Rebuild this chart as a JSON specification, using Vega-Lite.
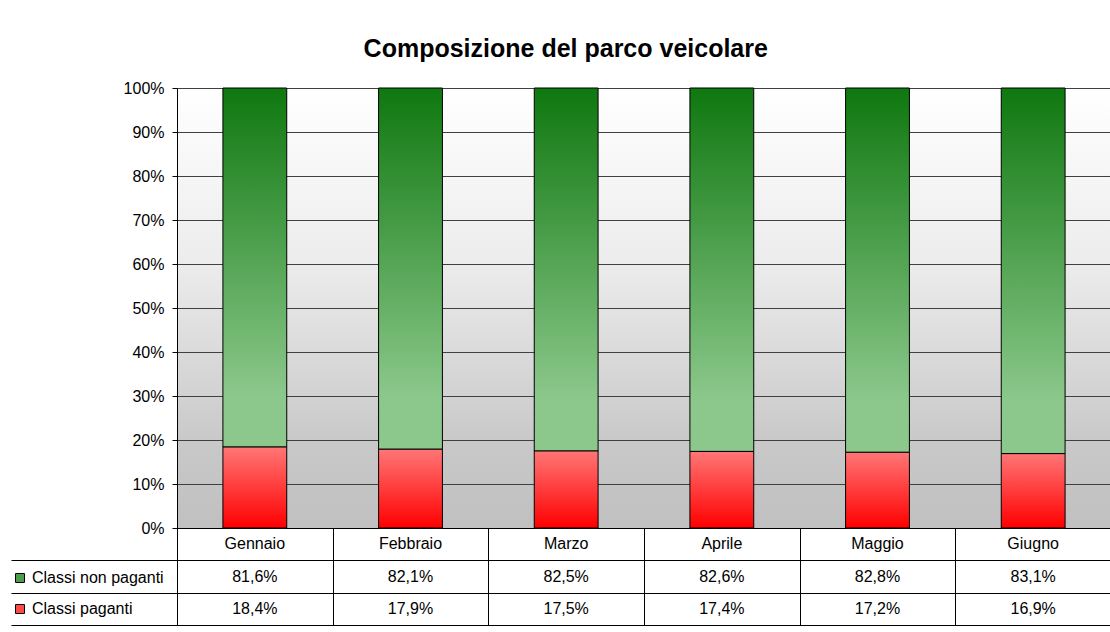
{
  "$schema": "https://vega.github.io/schema/vega-lite/v6.json",
  "padding": {"left": 10, "top": 37, "right": 0, "bottom": 0},
  "background": "white",
  "title": {"text": "Composizione del parco veicolare", "fontSize": 25, "font": "Liberation Sans", "fontWeight": "bold", "color": "black", "anchor": "middle", "frame": "bounds", "offset": 18, "dx": 5},
  "datasets": {
    "tab": [
      {"month": "Gennaio", "series": "Classi non paganti", "value": 0.816},
      {"month": "Gennaio", "series": "Classi paganti", "value": 0.184},
      {"month": "Febbraio", "series": "Classi non paganti", "value": 0.821},
      {"month": "Febbraio", "series": "Classi paganti", "value": 0.179},
      {"month": "Marzo", "series": "Classi non paganti", "value": 0.825},
      {"month": "Marzo", "series": "Classi paganti", "value": 0.175},
      {"month": "Aprile", "series": "Classi non paganti", "value": 0.826},
      {"month": "Aprile", "series": "Classi paganti", "value": 0.174},
      {"month": "Maggio", "series": "Classi non paganti", "value": 0.828},
      {"month": "Maggio", "series": "Classi paganti", "value": 0.172},
      {"month": "Giugno", "series": "Classi non paganti", "value": 0.831},
      {"month": "Giugno", "series": "Classi paganti", "value": 0.169}
    ]
  },
  "spacing": 0,
  "bounds": "flush",
  "resolve": {"scale": {"x": "independent", "y": "independent", "color": "independent"}, "legend": {"color": "independent"}},
  "vconcat": [
    {
      "width": 934,
      "height": 440,
      "data": {"name": "tab"},
      "view": {
        "stroke": null,
        "fill": {"gradient": "linear", "x1": 0, "y1": 0, "x2": 0, "y2": 1,
          "stops": [{"offset": 0, "color": "#ffffff"}, {"offset": 0.4, "color": "#ececec"}, {"offset": 0.8, "color": "#c9c9c9"}, {"offset": 1, "color": "#c0c0c0"}]}
      },
      "mark": {"type": "bar", "stroke": "black", "strokeWidth": 1},
      "encoding": {
        "x": {"field": "month", "type": "nominal", "sort": ["Gennaio", "Febbraio", "Marzo", "Aprile", "Maggio", "Giugno"],
          "scale": {"paddingInner": 0.59, "paddingOuter": 0.295}, "axis": null},
        "y": {"field": "value", "type": "quantitative", "stack": "zero",
          "scale": {"domain": [0, 1], "nice": false},
          "axis": {"title": null, "format": ".0%", "values": [0, 0.1, 0.2, 0.3, 0.4, 0.5, 0.6, 0.7, 0.8, 0.9, 1],
            "grid": true, "gridColor": "#404040", "gridWidth": 1, "gridOpacity": 1,
            "domain": true, "domainColor": "black", "ticks": true, "tickColor": "black", "tickSize": 5,
            "labelFontSize": 16, "labelColor": "black", "labelFont": "Liberation Sans", "labelPadding": 8}},
        "order": {"field": "series", "sort": "descending"},
        "fill": {
          "condition": {"test": "datum.series === 'Classi paganti'",
            "value": {"gradient": "linear", "x1": 0, "y1": 0, "x2": 0, "y2": 1,
              "stops": [{"offset": 0, "color": "#ff7676"}, {"offset": 1, "color": "#ff0000"}]}},
          "value": {"gradient": "linear", "x1": 0, "y1": 0, "x2": 0, "y2": 1,
            "stops": [{"offset": 0, "color": "#0f780f"}, {"offset": 0.86, "color": "#8cc88c"}, {"offset": 1, "color": "#8cc88c"}]}
        }
      }
    },
    {
      "width": 934,
      "height": 97,
      "view": {"stroke": "black", "strokeWidth": 1, "fill": "white"},
      "resolve": {"scale": {"x": "shared", "y": "shared"}},
      "layer": [
        {
          "data": {"name": "tab"},
          "mark": {"type": "text", "fontSize": 16, "font": "Liberation Sans", "color": "black", "baseline": "middle"},
          "encoding": {
            "x": {"field": "month", "type": "nominal", "sort": ["Gennaio", "Febbraio", "Marzo", "Aprile", "Maggio", "Giugno"],
              "scale": {"domain": ["Gennaio", "Febbraio", "Marzo", "Aprile", "Maggio", "Giugno"], "paddingInner": 0, "paddingOuter": 0},
              "axis": {"title": null, "orient": "bottom", "labels": false, "ticks": false, "domain": false, "grid": true, "gridColor": "black", "gridOpacity": 1, "tickBand": "extent"}},
            "y": {"field": "series", "type": "nominal",
              "scale": {"domain": ["header", "Classi non paganti", "Classi paganti"], "paddingInner": 0, "paddingOuter": 0},
              "axis": {"title": null, "labels": false, "domain": false, "ticks": true, "tickSize": 166, "tickColor": "black", "tickWidth": 1,
                "grid": true, "gridColor": "black", "gridOpacity": 1, "tickOffset": 16.17}},
            "text": {"field": "value", "type": "quantitative", "format": ".1%"}
          }
        },
        {
          "data": {"name": "tab"},
          "transform": [{"filter": "datum.series === 'Classi paganti'"}],
          "mark": {"type": "text", "fontSize": 16, "font": "Liberation Sans", "color": "black", "baseline": "middle"},
          "encoding": {
            "x": {"field": "month", "type": "nominal", "sort": ["Gennaio", "Febbraio", "Marzo", "Aprile", "Maggio", "Giugno"]},
            "y": {"datum": "header", "type": "nominal"},
            "text": {"field": "month", "type": "nominal"}
          }
        },
        {
          "data": {"name": "tab"},
          "transform": [{"filter": "false"}],
          "mark": {"type": "square"},
          "encoding": {
            "color": {"field": "series", "type": "nominal",
              "scale": {"domain": ["Classi non paganti", "Classi paganti"], "range": ["#4c9c4c", "#ff4848"]},
              "legend": {"orient": "left", "title": " ", "titleFontSize": 16, "titlePadding": 26,
                "symbolType": "square", "symbolSize": 81, "symbolStrokeColor": "black", "symbolStrokeWidth": 1, "symbolOpacity": 1,
                "labelFontSize": 16, "labelColor": "black", "labelFont": "Liberation Sans", "labelOffset": 4,
                "rowPadding": 15, "offset": -154, "padding": 0}}
          }
        }
      ]
    }
  ],
  "config": {
    "font": "Liberation Sans",
    "locale": {"number": {"decimal": ",", "thousands": ".", "grouping": [3], "currency": ["€", ""]}}
  }
}
